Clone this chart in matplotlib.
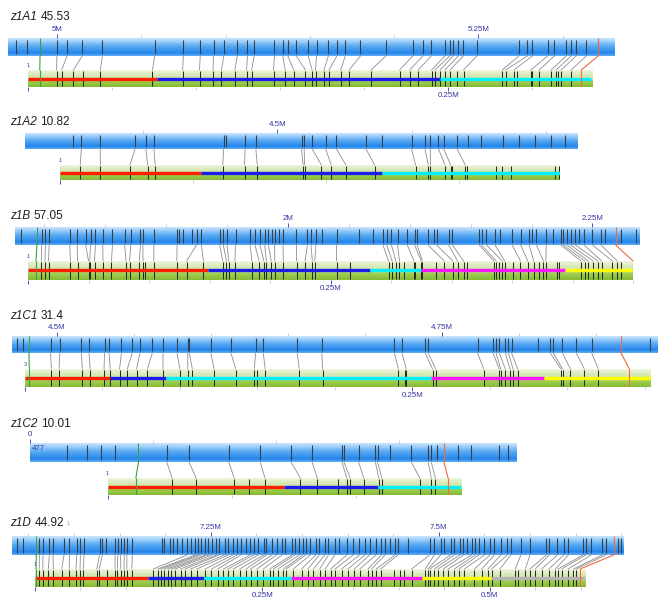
import matplotlib
matplotlib.use("Agg")
import numpy as np
import matplotlib.pyplot as plt
from matplotlib.colors import LinearSegmentedColormap
from matplotlib.patches import ConnectionPatch
from matplotlib.ticker import MultipleLocator

plt.rcParams["font.family"] = ["Liberation Sans", "DejaVu Sans"]

# --- Data (all positions in kb) ---
names = ["z1A1", "z1A2", "z1B", "z1C1", "z1C2", "z1D"]
scores = ["45.53", "10.82", "57.05", "31.4", "10.01", "44.92"]

# chromosome window on the blue bar
chrom_range = [(4971, 5331), (4406, 4612), (1776, 2289), (4471, 4890), (0, 198), (7032, 7703)]
chrom_ticks = [[5000, 5250], [4500], [2000, 2250], [4500, 4750], [0], [7250, 7500]]
chrom_ticklabels = [["5M", "5.25M"], ["4.5M"], ["2M", "2.25M"], ["4.5M", "4.75M"], ["0"], ["7.25M", "7.5M"]]

# scaffold on the green bar
scaf_len = [336, 188, 500, 404, 142.5, 605]
scaf_ticks = [[0, 250], [0], [0, 250], [0, 250], [0], [0, 250, 500]]
scaf_ticklabels = [["", "0.25M"], [""], ["", "0.25M"], ["", "0.25M"], [""], ["", "0.25M", "0.5M"]]
contig_breaks = [
    [0, 77, 245, 335],
    [0, 53, 121, 188],
    [0, 149, 283, 325, 444, 499],
    [0, 55, 91, 262, 335, 404],
    [0, 71, 109, 142.5],
    [0, 124, 186, 281, 425, 501, 605],
]
contig_colors = ["#ff1e00", "#1c1ce8", "#00f0ff", "#ff14ff", "#ffff00", "#b4b4b4"]

# marker pairs (chromosome pos -> scaffold pos)
p1_link_chr = [5000, 5006, 5015, 5027, 5058, 5075, 5085, 5093, 5099, 5107, 5113, 5117, 5129, 5134,
               5137, 5142, 5149, 5154, 5161, 5166, 5171, 5180, 5195, 5211, 5217, 5222, 5230, 5233,
               5235, 5238, 5241, 5249, 5274, 5279, 5282, 5291, 5295, 5302, 5305, 5308, 5314]
p1_link_scaf = [17, 20, 27, 43, 74, 92, 102, 110, 115, 123, 130, 133, 146, 153, 158, 165, 169, 171,
                176, 179, 186, 191, 204, 221, 227, 232, 240, 242, 245, 248, 251, 259, 282, 284, 289,
                299, 304, 311, 314, 317, 323]
p1_chr_only = [4976, 4982]
p1_scaf_only = [33, 255, 291, 300, 315]

p2_link_chr = [4427, 4434, 4447, 4451, 4454, 4480, 4488, 4492, 4509, 4510, 4513, 4518, 4522, 4533,
               4550, 4555, 4557, 4560, 4562, 4567]
p2_link_scaf = [7.6, 15.2, 26.3, 33.0, 35.8, 61.2, 69.4, 74.2, 91.4, 92.0, 98.3, 102.0, 107.5, 118.3,
                133.7, 138.5, 139.3, 144.8, 146.9, 152.4]
p2_chr_only = [4424, 4481, 4539, 4571, 4576, 4584, 4590, 4596, 4602, 4607]
p2_scaf_only = [147.5, 153.2, 163.9, 166.2, 169.7, 186.1, 187.7]

p3_link_chr = [1798, 1801, 1804, 1821, 1827, 1834, 1838, 1842, 1848, 1856, 1866, 1871, 1879, 1881,
               1890, 1909, 1925, 1929, 1944, 1947, 1950, 1957, 1969, 1973, 1977, 1981, 1984, 1989,
               1996, 2007, 2016, 2019, 2023, 2040, 2078, 2081, 2085, 2090, 2098, 2104, 2106, 2115,
               2122, 2132, 2135, 2157, 2159, 2163, 2170, 2184, 2191, 2198, 2204, 2212, 2224, 2226,
               2229, 2232, 2236, 2243, 2250, 2257]
p3_link_scaf = [11, 14, 17, 35, 41, 50, 51, 55, 62, 69, 81, 84, 92, 95, 104, 123, 131, 145, 161, 164,
                166, 171, 185, 191, 195, 197, 201, 204, 211, 222, 229, 235, 237, 255, 298, 301, 304,
                307, 319, 325, 326, 344, 351, 355, 360, 385, 387, 392, 394, 407, 413, 418, 426, 428,
                457, 460, 463, 467, 471, 474, 483, 487]
p3_chr_only = [1781, 1911, 1914, 1921, 1987, 1993, 2028, 2058, 2070, 2120, 2174, 2200, 2218, 2239,
               2260, 2273, 2286]
p3_scaf_only = [97, 266, 311, 320, 337, 363, 389, 401, 422, 437, 439, 490]

p4_link_chr = [4496, 4502, 4516, 4521, 4531, 4534, 4542, 4549, 4554, 4562, 4569, 4578, 4585, 4586,
               4600, 4613, 4629, 4634, 4656, 4672, 4719, 4724, 4739, 4741, 4773, 4783, 4785, 4787,
               4791, 4793, 4795, 4820, 4822, 4828, 4837, 4847]
p4_link_scaf = [17, 22, 37, 42, 51, 55, 61, 66, 72, 79, 89, 100, 105, 108, 122, 136, 148, 155, 177,
                192, 241, 246, 263, 265, 296, 306, 307, 310, 313, 315, 318, 346, 347, 352, 361, 370]
p4_chr_only = [4474, 4478, 4812, 4885]
p4_scaf_only = [150, 245]

p5_link_chr = [55.6, 64.6, 80.8, 93.6, 106.1, 114.7, 126.8, 127.6, 133.6, 140.4, 141.3, 155.0, 161.9, 163.1]
p5_link_scaf = [26.0, 35.7, 51.0, 63.4, 77.7, 84.5, 96.4, 97.8, 103.2, 109.3, 110.5, 125.8, 130.4, 132.1]
p5_chr_only = [15.2, 23.0, 29.0, 34.5, 146.5, 165.3, 173.9, 179.5, 190.7, 194.5]
p5_scaf_only = [56.9, 92.7]

p6_link_chr = [7062, 7066, 7073, 7077, 7089, 7095, 7103, 7107, 7111, 7128, 7131, 7145, 7148, 7151,
               7155, 7158, 7164,
               7224, 7233, 7236, 7239, 7244, 7247, 7251, 7256, 7259, 7265, 7269, 7274, 7279, 7283,
               7293, 7297, 7302, 7308, 7311, 7317, 7322, 7328, 7339, 7342, 7347, 7351, 7354, 7359,
               7365, 7369, 7375, 7379, 7386, 7399, 7406, 7413, 7419, 7424, 7431, 7437, 7441, 7452, 7455,
               7490, 7495, 7502, 7513, 7517, 7523, 7527, 7536, 7540, 7544, 7550, 7556, 7561, 7568,
               7575, 7579,
               7590, 7600, 7618, 7621, 7630, 7637, 7642, 7658, 7661, 7667, 7679, 7683]
p6_link_scaf = [4.7, 8.5, 14.6, 20.1, 29.4, 37.7, 45.1, 49.5, 53.1, 67.9, 70.7, 88.0, 90.5, 94.3,
                97.9, 100.9, 106.4,
                130, 135, 138, 142, 146, 150, 154, 160, 165, 171, 178, 187, 194, 201, 207, 212, 218,
                225, 232, 237, 244, 251, 258, 262, 267, 273, 276, 284, 293, 300, 306, 313, 319, 325,
                330, 337, 344, 351, 357, 366, 370, 375, 380,
                414, 429, 432, 434, 439, 443, 449, 454, 461, 466, 472, 483, 491, 498, 502, 511,
                528, 539, 544, 550, 557, 565, 572, 575, 579, 586, 592, 595]
p6_chr_only = [7037, 7044, 7135, 7196, 7199, 7205, 7209, 7213, 7218, 7228, 7289, 7331, 7391, 7446,
               7466, 7506, 7531, 7696, 7700]
p6_scaf_only = [79, 395, 401, 406, 531]

# start (green) and end (orange) anchors: (chromosome pos, scaffold pos)
start_anchor = [(4990, 7), None, (1794, 6.6), (4482, 2.8), (44.1, 11.4), (7058.7, 1.1)]
end_anchor = [(5321, 329), None, (2269, 500), (4866, 390), (168.3, 137.2), (7691.6, 599.2)]
start_label = ["1", "1", "1", "3", "1", "1"]

link_chr = [p1_link_chr, p2_link_chr, p3_link_chr, p4_link_chr, p5_link_chr, p6_link_chr]
link_scaf = [p1_link_scaf, p2_link_scaf, p3_link_scaf, p4_link_scaf, p5_link_scaf, p6_link_scaf]
chr_only = [p1_chr_only, p2_chr_only, p3_chr_only, p4_chr_only, p5_chr_only, p6_chr_only]
scaf_only = [p1_scaf_only, p2_scaf_only, p3_scaf_only, p4_scaf_only, p5_scaf_only, p6_scaf_only]

# --- Layout (pixels) ---
W, H = 658, 602
title_xy = [(10, 20), (10, 125), (10, 219), (10, 319), (10, 427), (10, 526)]
blue_box = [(8, 615, 38, 56), (25, 578, 133, 149), (15, 640, 227, 245),
            (12, 658, 336, 353), (30, 517, 443, 462), (12, 624, 536, 555)]
green_box = [(28, 593, 70, 87), (60, 560, 165, 180), (28, 633, 261, 280),
             (25, 651, 369, 387), (107.6, 461.2, 478, 495), (35, 585.3, 569, 587)]

NAVY = "#3434a4"
blue_cmap = LinearSegmentedColormap.from_list(
    "chrom", ["#c6e4fd", "#a4d2fa", "#74b9f6", "#50a5f1", "#3c96ef", "#2484ec", "#63aef4"])
green_cmap = LinearSegmentedColormap.from_list(
    "scaf", ["#eef6df", "#e0eec6", "#d4e8b3", "#cfe4aa", "#9fcf50", "#92c642", "#86ba36"])
grad = np.linspace(0, 1, 64).reshape(-1, 1)


def fig_box(x0, x1, y0, y1):
    return [x0 / W, 1 - y1 / H, (x1 - x0) / W, (y1 - y0) / H]


fig = plt.figure(figsize=(W / 100, H / 100), dpi=100)

for i in range(6):
    ax_c = fig.add_axes(fig_box(*blue_box[i]))
    ax_s = fig.add_axes(fig_box(*green_box[i]))
    c0, c1 = chrom_range[i]

    # bars
    ax_c.imshow(grad, cmap=blue_cmap, extent=[c0, c1, 0, 1], aspect="auto")
    ax_s.imshow(grad, cmap=green_cmap, extent=[0, scaf_len[i], 0, 1], aspect="auto")
    ax_c.set_xlim(c0, c1)
    ax_c.set_ylim(0, 1)
    ax_s.set_xlim(0, scaf_len[i])
    ax_s.set_ylim(0, 1)

    # markers
    ax_c.vlines(link_chr[i] + chr_only[i], 0.1, 0.9, color="#34414e", lw=0.8)
    ax_s.vlines(link_scaf[i] + scaf_only[i], 0.06, 0.94, color="#2a2a2a", lw=0.75)

    # contigs
    br = contig_breaks[i]
    for k in range(len(br) - 1):
        ax_s.plot([br[k], br[k + 1]], [0.5, 0.5], color=contig_colors[k], lw=2.4,
                  solid_capstyle="butt", zorder=3)

    # links between chromosome and scaffold
    for t, s in zip(link_chr[i], link_scaf[i]):
        con = ConnectionPatch(xyA=(t, 0), coordsA=ax_c.transData, xyB=(s, 1),
                              coordsB=ax_s.transData, color="#8e8e8e", lw=0.6)
        fig.add_artist(con)

    for anchor, col in ((start_anchor[i], "#3aa04a"), (end_anchor[i], "#f26a3d")):
        if anchor is None:
            continue
        t, s = anchor
        ax_c.vlines([t], 0, 1, color=col, lw=0.8)
        ax_s.vlines([s], 0, 1, color=col, lw=0.8, zorder=4)
        fig.add_artist(ConnectionPatch(xyA=(t, 0), coordsA=ax_c.transData, xyB=(s, 1),
                                       coordsB=ax_s.transData, color=col, lw=0.8))

    # axes styling
    for ax in (ax_c, ax_s):
        for sp in ax.spines.values():
            sp.set_visible(False)
        ax.set_yticks([])
        ax.xaxis.set_minor_locator(MultipleLocator(50))
        ax.tick_params(axis="x", which="major", length=3, width=0.6, color=NAVY,
                       labelsize=5.7, labelcolor=NAVY, pad=0.3)
        ax.tick_params(axis="x", which="minor", length=2, width=0.5, color="#b9bccb")
    ax_c.xaxis.set_ticks_position("top")
    ax_c.set_xticks(chrom_ticks[i], chrom_ticklabels[i])
    ax_s.xaxis.set_ticks_position("bottom")
    ax_s.set_xticks(scaf_ticks[i], scaf_ticklabels[i])

    ax_s.text(0, 1.12, start_label[i], transform=ax_s.transAxes, ha="center", va="bottom",
              fontsize=4, color=NAVY)
    if names[i] == "z1C2":
        ax_c.text(0.004, 0.72, "477", transform=ax_c.transAxes, ha="left", va="center",
                  fontsize=5.7, color=NAVY)

    # title: italic name + score
    tx, ty = title_xy[i]
    t1 = ax_c.text(tx / W, 1 - ty / H, names[i], transform=fig.transFigure, style="italic",
                   fontsize=8.5, color="#1e1e1e", va="baseline")
    t2 = ax_c.annotate(scores[i], xy=(1, 0), xycoords=t1, xytext=(2.5, 0),
                       textcoords="offset points", va="bottom", fontsize=8.5, color="#1e1e1e",
                       annotation_clip=False)
    if names[i] == "z1D":
        ax_c.annotate("1", xy=(1, 1), xycoords=t2, xytext=(2, -3), textcoords="offset points",
                      va="top", fontsize=4, color="#999999", annotation_clip=False)

fig.savefig("out.png", dpi=100)
